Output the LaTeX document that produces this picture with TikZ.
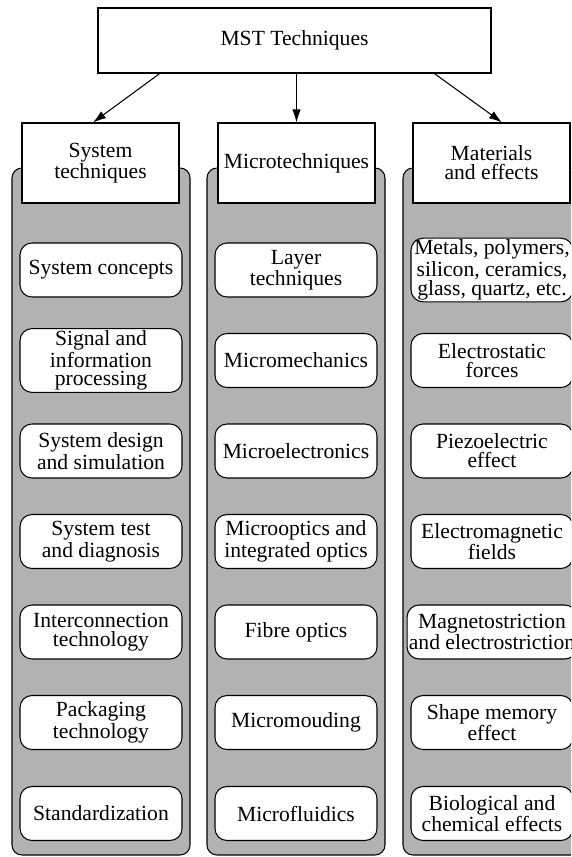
\documentclass[tikz,border=0pt]{standalone}
\usepackage{fontspec}
\setmainfont{Liberation Serif}
\usepackage{tikz}
\usetikzlibrary{arrows.meta,calc}
\usepackage{xcolor}

\begin{document}
\begin{tikzpicture}[
        every node/.style={font=\rmfamily\fontsize{12.3pt}{10.8pt}\selectfont,align=center,line width=0.6pt},
        plainbox/.style={rectangle,draw,fill=white},
        column/.style={rectangle,draw,fill=black!30,rounded corners=0.2cm,minimum width=3.56cm,minimum height=13.74cm},
        item/.style={rectangle,draw,fill=white,rounded corners=0.24cm,minimum width=3.24cm,minimum height=1.08cm,inner sep=1pt},
        arrow/.style={-{Latex[length=2.6mm,width=1.7mm]},line width=0.6pt}]
        \clip (0,0) rectangle (11.42,-17.14);

        \node [plainbox,minimum width=7.86cm,minimum height=1.3cm] (mst) at (5.89,-0.81) {MST Techniques};

        \node [column] (sysbg) at (2.02,-10.23) {};
        \node [column] (micbg) at (5.92,-10.23) {};
        \node [column] (matbg) at (9.84,-10.23) {};

        \node [plainbox,minimum width=3.14cm,minimum height=1.6cm] (sysh) at (2.01,-3.26) {System\\techniques};
        \node [plainbox,minimum width=3.14cm,minimum height=1.6cm] (mich) at (5.93,-3.26) {Microtechniques};
        \node [plainbox,minimum width=3.14cm,minimum height=1.6cm] (math) at (9.83,-3.26) {Materials\\and effects};

        \draw[arrow] ($(mst.south west)!0.158!(mst.south east)$) -- ($(sysh.north)+(-0.15,0)$);
        \draw[arrow] (mich.north |- mst.south) -- (mich.north);
        \draw[arrow] ($(mst.south east)!0.145!(mst.south west)$) -- ($(math.north)+(0.21,0)$);

        \node [item] (sys1) at (2.02,-5.40) {System concepts};
        \node [item] (sys2) at (2.02,-7.21) {Signal and\\information\\processing};
        \node [item] (sys3) at (2.02,-9.02) {System design\\and simulation};
        \node [item] (sys4) at (2.02,-10.83) {System test\\and diagnosis};
        \node [item] (sys5) at (2.02,-12.64) {Interconnection\\technology};
        \node [item] (sys6) at (2.02,-14.45) {Packaging\\technology};
        \node [item] (sys7) at (2.02,-16.27) {Standardization};

        \node [item] (mic1) at (5.92,-5.40) {Layer\\techniques};
        \node [item] (mic2) at (5.92,-7.21) {Micromechanics};
        \node [item] (mic3) at (5.92,-9.02) {Microelectronics};
        \node [item] (mic4) at (5.92,-10.83) {Microoptics and\\integrated optics};
        \node [item] (mic5) at (5.92,-12.64) {Fibre optics};
        \node [item] (mic6) at (5.92,-14.45) {Micromouding};
        \node [item] (mic7) at (5.92,-16.27) {Microfluidics};

        \node [item] (mat1) at (9.84,-5.40) {Metals, polymers,\\silicon, ceramics,\\glass, quartz, etc.};
        \node [item] (mat2) at (9.84,-7.21) {Electrostatic\\forces};
        \node [item] (mat3) at (9.84,-9.02) {Piezoelectric\\effect};
        \node [item] (mat4) at (9.84,-10.83) {Electromagnetic\\fields};
        \node [item] (mat5) at (9.84,-12.64) {Magnetostriction\\and electrostriction};
        \node [item] (mat6) at (9.84,-14.45) {Shape memory\\effect};
        \node [item] (mat7) at (9.84,-16.27) {Biological and\\chemical effects};
        \end{tikzpicture}
\end{document}
